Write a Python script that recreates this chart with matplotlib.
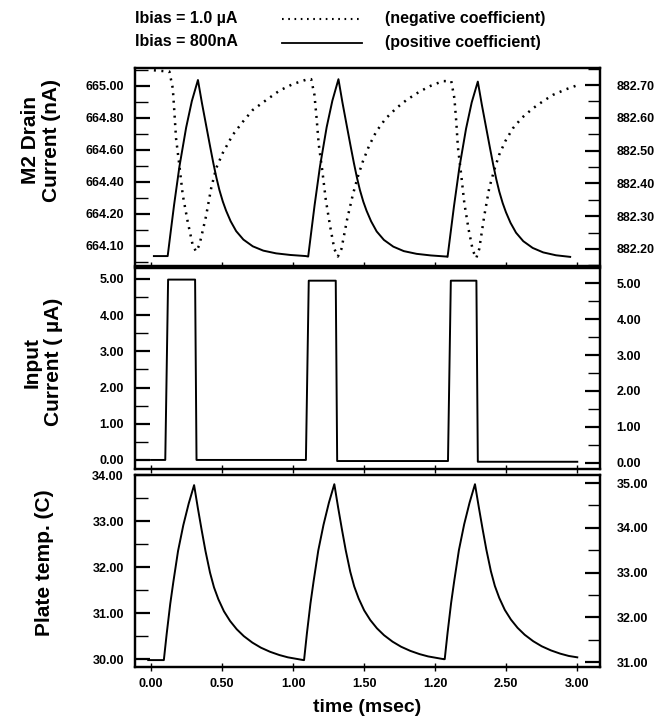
import matplotlib
matplotlib.use('Agg')
import matplotlib.pyplot as plt
from matplotlib.lines import Line2D
from matplotlib.ticker import FixedLocator, MultipleLocator

plt.rcParams['font.family'] = ['Liberation Sans', 'DejaVu Sans']
plt.rcParams['font.weight'] = 'bold'

# ---- datos ----
# M2 drain current, Ibias = 800nA (positive coefficient), eje izquierdo
t_solid = [0.02, 0.117, 0.137, 0.162, 0.20, 0.247, 0.287, 0.33,
           0.358, 0.387, 0.415, 0.439, 0.46, 0.481, 0.505, 0.528, 0.56, 0.599, 0.65, 0.716, 0.79, 0.88, 0.98, 1.09,
           1.106, 1.126, 1.151, 1.189, 1.236, 1.276, 1.319,
           1.347, 1.376, 1.404, 1.428, 1.449, 1.47, 1.494, 1.517, 1.549, 1.588, 1.639, 1.705, 1.779, 1.869, 1.969, 2.079,
           2.087, 2.107, 2.132, 2.17, 2.217, 2.257, 2.30,
           2.328, 2.357, 2.385, 2.409, 2.43, 2.451, 2.475, 2.498, 2.53, 2.569, 2.62, 2.686, 2.76, 2.85, 2.95]
drain_solid = [663.935, 663.935, 664.078, 664.254, 664.496, 664.738, 664.903, 665.035,
               664.892, 664.755, 664.623, 664.513, 664.425, 664.348, 664.276, 664.219, 664.153, 664.091, 664.038, 663.996, 663.969, 663.952, 663.942, 663.935,
               663.932, 664.075, 664.252, 664.495, 664.74, 664.905, 665.04,
               664.895, 664.757, 664.625, 664.515, 664.426, 664.348, 664.275, 664.218, 664.152, 664.089, 664.036, 663.994, 663.966, 663.949, 663.939, 663.932,
               663.93, 664.07, 664.245, 664.487, 664.73, 664.895, 665.025,
               664.882, 664.745, 664.613, 664.503, 664.415, 664.338, 664.266, 664.209, 664.143, 664.081, 664.028, 663.986, 663.958, 663.94, 663.93]

# M2 drain current, Ibias = 1.0 uA (negative coefficient), eje derecho
t_dotted = [0.02, 0.129, 0.153, 0.164, 0.176, 0.199, 0.223, 0.258, 0.293, 0.317,
            0.34, 0.365, 0.387, 0.423, 0.458, 0.505, 0.575, 0.646, 0.716, 0.81, 0.904, 0.998, 1.09, 1.127,
            1.15, 1.165, 1.18, 1.205, 1.23, 1.26, 1.29, 1.315,
            1.34, 1.38, 1.42, 1.455, 1.49, 1.535, 1.585, 1.65, 1.725, 1.80, 1.89, 1.97, 2.054, 2.113,
            2.135, 2.148, 2.16, 2.182, 2.205, 2.235, 2.265, 2.289,
            2.31, 2.345, 2.38, 2.415, 2.45, 2.495, 2.547, 2.61, 2.688, 2.76, 2.829, 2.92, 3.005]
drain_dotted = [882.745, 882.741, 882.690, 882.619, 882.537, 882.456, 882.365, 882.283, 882.212, 882.192,
                882.212, 882.258, 882.300, 882.385, 882.446, 882.493, 882.548, 882.588, 882.624, 882.654, 882.683, 882.703, 882.716, 882.718,
                882.67, 882.60, 882.52, 882.44, 882.35, 882.27, 882.20, 882.177,
                882.20, 882.29, 882.365, 882.42, 882.466, 882.515, 882.558, 882.597, 882.629, 882.655, 882.680, 882.698, 882.712, 882.712,
                882.66, 882.59, 882.51, 882.43, 882.34, 882.26, 882.195, 882.172,
                882.20, 882.30, 882.385, 882.44, 882.487, 882.53, 882.568, 882.60, 882.629, 882.651, 882.670, 882.687, 882.700]

# corriente de entrada (uA)
t_input = [0.0, 0.10, 0.12, 0.31, 0.32, 1.09, 1.11, 1.30, 1.31, 2.09, 2.11, 2.29, 2.30, 3.0]
input_cur = [0.0, 0.0, 4.98, 4.98, 0.0, 0.0, 4.95, 4.95, -0.03, -0.03, 4.95, 4.95, -0.05, -0.05]

# temperatura de placa (C)
t_temp = [-0.02, 0.09, 0.11, 0.135, 0.157, 0.19, 0.227, 0.265, 0.303,
          0.330, 0.357, 0.383, 0.415, 0.443, 0.474, 0.513, 0.556, 0.603, 0.653, 0.713, 0.773, 0.838, 0.903, 0.963, 1.073,
          1.077, 1.097, 1.122, 1.144, 1.177, 1.214, 1.252, 1.29,
          1.317, 1.344, 1.37, 1.402, 1.43, 1.461, 1.50, 1.543, 1.59, 1.64, 1.70, 1.76, 1.825, 1.89, 1.95, 2.06,
          2.067, 2.087, 2.112, 2.134, 2.167, 2.204, 2.242, 2.28,
          2.307, 2.334, 2.36, 2.392, 2.42, 2.451, 2.49, 2.533, 2.58, 2.63, 2.69, 2.75, 2.815, 2.88, 2.94, 3.0]
plate_temp = [29.98, 29.98, 30.55, 31.20, 31.68, 32.35, 32.91, 33.38, 33.78,
              33.27, 32.79, 32.35, 31.88, 31.56, 31.30, 31.04, 30.83, 30.65, 30.50, 30.36, 30.25, 30.16, 30.09, 30.04, 29.98,
              29.98, 30.56, 31.21, 31.69, 32.36, 32.92, 33.40, 33.80,
              33.29, 32.81, 32.37, 31.90, 31.58, 31.32, 31.06, 30.85, 30.67, 30.52, 30.38, 30.27, 30.18, 30.11, 30.06, 30.0,
              30.0, 30.57, 31.22, 31.70, 32.37, 32.93, 33.40, 33.80,
              33.30, 32.82, 32.38, 31.91, 31.59, 31.33, 31.07, 30.86, 30.68, 30.53, 30.39, 30.28, 30.19, 30.12, 30.07, 30.04]

xticks = [0.0, 0.5, 1.0, 1.5, 2.0, 2.5, 3.0]
xtick_labels = ['0.00', '0.50', '1.00', '1.50', '1.20', '2.50', '3.00']

fig = plt.figure(figsize=(6.57, 7.25), dpi=100)
W, H = 657.0, 725.0


def make_axes(top, bottom):
    ax = fig.add_axes([135 / W, (H - bottom) / H, 465 / W, (bottom - top) / H])
    ax.set_xlim(-0.113, 3.16)
    ax.xaxis.set_major_locator(FixedLocator(xticks))
    ax.tick_params(axis='x', direction='inout', length=6, width=1)
    for s in ax.spines.values():
        s.set_linewidth(1.6)
    return ax


def style_y(ax, side, pad):
    ax.tick_params(axis='y', which='major', direction='in', length=11, width=1.6, labelsize=9, pad=pad)
    ax.tick_params(axis='y', which='minor', direction='in', length=9, width=1)
    if side == 'right':
        ax.yaxis.tick_right()


# ---- panel 1: M2 drain current ----
ax1 = make_axes(68, 266)
ax1.plot(t_solid, drain_solid, color='black', lw=1.4)
ax1.set_ylim(663.873, 665.11)
ax1.yaxis.set_major_locator(FixedLocator([665.0, 664.8, 664.6, 664.4, 664.2, 664.0]))
ax1.set_yticklabels(['665.00', '664.80', '664.60', '664.40', '664.20', '664.10'])
ax1.yaxis.set_minor_locator(MultipleLocator(0.1))
style_y(ax1, 'left', 8)
ax1.set_xticklabels([])

ax1r = ax1.twinx()
ax1r.plot(t_dotted, drain_dotted, color='black', lw=1.8, linestyle=(0, (0.8, 2.2)))
ax1r.set_ylim(882.148, 882.752)
ax1r.yaxis.set_major_locator(FixedLocator([882.7, 882.6, 882.5, 882.4, 882.3, 882.2]))
ax1r.set_yticklabels(['882.70', '882.60', '882.50', '882.40', '882.30', '882.20'])
ax1r.yaxis.set_minor_locator(MultipleLocator(0.05))
style_y(ax1r, 'right', 12)

# ---- panel 2: input current ----
ax2 = make_axes(268, 469)
ax2.plot(t_input, input_cur, color='black', lw=1.4)
ax2.set_ylim(-0.25, 5.30)
ax2.yaxis.set_major_locator(FixedLocator([0, 1, 2, 3, 4, 5]))
ax2.set_yticklabels(['0.00', '1.00', '2.00', '3.00', '4.00', '5.00'])
ax2.yaxis.set_minor_locator(MultipleLocator(0.5))
style_y(ax2, 'left', 8)
ax2.set_xticklabels([])

ax2r = ax2.twinx()
ax2r.set_ylim(-0.17, 5.42)
ax2r.yaxis.set_major_locator(FixedLocator([0, 1, 2, 3, 4, 5]))
ax2r.set_yticklabels(['0.00', '1.00', '2.00', '3.00', '4.00', '5.00'])
ax2r.yaxis.set_minor_locator(MultipleLocator(0.5))
style_y(ax2r, 'right', 12)

# ---- panel 3: plate temperature ----
ax3 = make_axes(475, 667)
ax3.plot(t_temp, plate_temp, color='black', lw=1.4)
ax3.set_ylim(29.83, 34.0)
ax3.yaxis.set_major_locator(FixedLocator([30, 31, 32, 33, 34]))
ax3.set_yticklabels(['30.00', '31.00', '32.00', '33.00', '34.00'])
ax3.yaxis.set_minor_locator(MultipleLocator(0.5))
style_y(ax3, 'left', 8)
ax3.set_xticklabels(xtick_labels, fontsize=9, fontweight='bold')
ax3.tick_params(axis='x', pad=5)

ax3r = ax3.twinx()
ax3r.set_ylim(30.89, 35.18)
ax3r.yaxis.set_major_locator(FixedLocator([31, 32, 33, 34, 35]))
ax3r.set_yticklabels(['31.00', '32.00', '33.00', '34.00', '35.00'])
ax3r.yaxis.set_minor_locator(MultipleLocator(0.5))
style_y(ax3r, 'right', 12)

for a in (ax1r, ax2r, ax3r):
    for s in a.spines.values():
        s.set_linewidth(1.6)

# ---- etiquetas ----
fig.text(367 / W, 1 - 707 / H, 'time (msec)', ha='center', va='center', fontsize=14, fontweight='bold')
fig.text(41 / W, 1 - 140 / H, 'M2 Drain\nCurrent (nA)', rotation=90, ha='center', va='center',
         fontsize=15, fontweight='bold', multialignment='center', linespacing=1.15)
fig.text(43 / W, 1 - 362 / H, 'Input\nCurrent ( µA)', rotation=90, ha='center', va='center',
         fontsize=15, fontweight='bold', multialignment='center', linespacing=1.15)
fig.text(45 / W, 1 - 563 / H, 'Plate temp. (C)', rotation=90, ha='center', va='center',
         fontsize=15, fontweight='bold')

# leyenda superior
fig.text(135 / W, 1 - 18 / H, 'Ibias = 1.0 µA', ha='left', va='center', fontsize=11.5, fontweight='bold')
fig.text(135 / W, 1 - 42 / H, 'Ibias = 800nA', ha='left', va='center', fontsize=11.5, fontweight='bold')
fig.add_artist(Line2D([282 / W, 362 / W], [1 - 19 / H, 1 - 19 / H], color='black', lw=1.5,
                      linestyle=(0, (0.8, 2.2)), transform=fig.transFigure))
fig.add_artist(Line2D([282 / W, 362 / W], [1 - 43 / H, 1 - 43 / H], color='black', lw=1.3,
                      transform=fig.transFigure))
fig.text(385 / W, 1 - 18 / H, '(negative coefficient)', ha='left', va='center', fontsize=11.5, fontweight='bold')
fig.text(385 / W, 1 - 42 / H, '(positive coefficient)', ha='left', va='center', fontsize=11.5, fontweight='bold')

fig.savefig('out.png', dpi=100)
